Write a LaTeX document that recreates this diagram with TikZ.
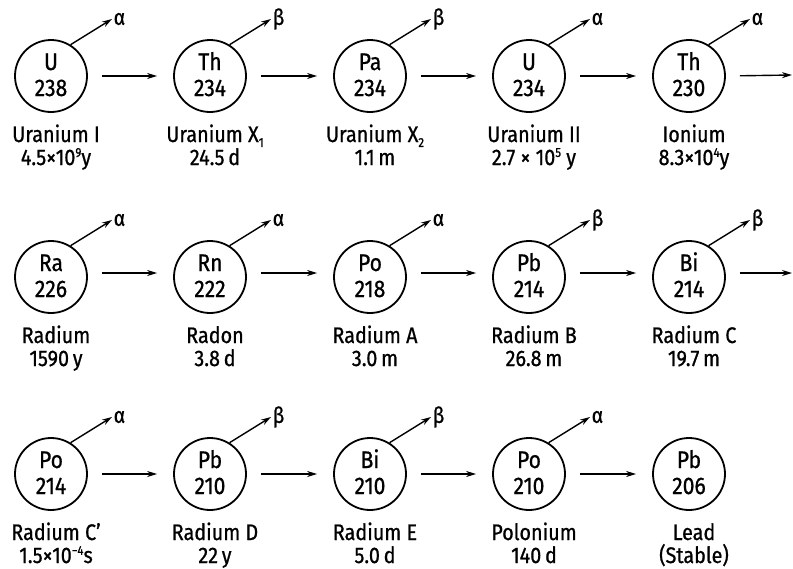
\documentclass[tikz,border=0pt]{standalone}
\usepackage{fontspec}
\setmainfont{Fira Sans}[FakeStretch=0.88,FakeBold=0.8]
\usetikzlibrary{arrows.meta}
\newcommand\sups[1]{\raisebox{0.36em}{\fontsize{13}{13}\selectfont #1}}
\newcommand\subs[1]{\raisebox{-0.22em}{\fontsize{13}{13}\selectfont #1}}
\tikzset{
  nuc/.style={circle,draw,line width=1.8pt,minimum size=72pt,inner sep=0pt},
  sym/.style={anchor=base,inner sep=0pt,font=\fontsize{24}{26}\selectfont},
  lab/.style={anchor=base,inner sep=0pt,font=\fontsize{22.5}{24}\selectfont},
  plab/.style={anchor=west,inner sep=1.5pt,font=\fontsize{22}{24}\selectfont},
  flow/.style={line width=1.4pt,-{Stealth[length=10pt,width=6pt]},shorten <=14pt,shorten >=16pt},
  emit/.style={line width=1.4pt,-{Stealth[length=10pt,width=6pt]}},
}
% name, x, y, element, mass, line1, line2
\newcommand\nuc[7]{%
  \node[nuc] (#1) at (#2,#3) {};
  \node[sym] (#1s) at (#2,#3-6) {#4};
  \node[sym] (#1n) at (#2,#3+20) {#5};
  \node[lab] (#1a) at (#2+5,#3+66) {#6};
  \node[lab] (#1b) at (#2+5,#3+89) {#7};
}
\newcommand\emits[2]{%
  \node[plab] (#1p) at ([shift={(61,-57)}]#1.center) {#2};
  \draw[emit] (#1.58) -- (#1p.west);
}
\begin{document}
\begin{tikzpicture}[x=1pt,y=-1pt]
\fill[white] (0,0) rectangle (793,568);
\useasboundingbox (0,0) rectangle (793,568);
% row 1
\nuc{a1}{51}{76}{U}{238}{Uranium I}{4.5×10\sups{9}y}
\nuc{a2}{210}{76}{Th}{234}{Uranium X\subs{1}}{24.5\,d}
\nuc{a3}{370}{76}{Pa}{234}{Uranium X\subs{2}}{1.1\,m}
\nuc{a4}{529}{76}{U}{234}{Uranium II}{2.7 × 10\sups{5} y}
\nuc{a5}{689}{76}{Th}{230}{Ionium}{8.3×10\sups{4}y}
% row 2
\nuc{b1}{51}{277}{Ra}{226}{Radium}{1590\,y}
\nuc{b2}{210}{277}{Rn}{222}{Radon}{3.8\,d}
\nuc{b3}{370}{277}{Po}{218}{Radium A}{3.0\,m}
\nuc{b4}{529}{277}{Pb}{214}{Radium B}{26.8\,m}
\nuc{b5}{689}{277}{Bi}{214}{Radium C}{19.7\,m}
% row 3
\nuc{c1}{51}{474}{Po}{214}{Radium C\textquoteright}{1.5×10\sups{−4}s}
\nuc{c2}{210}{474}{Pb}{210}{Radium D}{22\,y}
\nuc{c3}{370}{474}{Bi}{210}{Radium E}{5.0\,d}
\nuc{c4}{529}{474}{Po}{210}{Polonium}{140\,d}
\nuc{c5}{689}{474}{Pb}{206}{Lead}{(Stable)}
% emissions
\emits{a1}{α}\emits{a2}{β}\emits{a3}{β}\emits{a4}{α}\emits{a5}{α}
\emits{b1}{α}\emits{b2}{α}\emits{b3}{α}\emits{b4}{β}\emits{b5}{β}
\emits{c1}{α}\emits{c2}{β}\emits{c3}{β}\emits{c4}{α}
% chain arrows
\coordinate (aend) at (792,75);
\coordinate (bend) at (792,273);
\draw[flow] (a1.east) -- (a2.west);
\draw[flow] (a2.east) -- (a3.west);
\draw[flow] (a3.east) -- (a4.west);
\draw[flow] (a4.east) -- (a5.west);
\draw[flow,shorten >=0pt] (a5.east) -- (aend);
\draw[flow] ([yshift=4pt]b1.east) -- ([yshift=4pt]b2.west);
\draw[flow] ([yshift=4pt]b2.east) -- ([yshift=4pt]b3.west);
\draw[flow] ([yshift=4pt]b3.east) -- ([yshift=4pt]b4.west);
\draw[flow] ([yshift=4pt]b4.east) -- ([yshift=4pt]b5.west);
\draw[flow,shorten >=0pt] ([yshift=4pt]b5.east) -- (bend);
\draw[flow] (c1.east) -- (c2.west);
\draw[flow] (c2.east) -- (c3.west);
\draw[flow] (c3.east) -- (c4.west);
\draw[flow] (c4.east) -- (c5.west);
\end{tikzpicture}
\end{document}
